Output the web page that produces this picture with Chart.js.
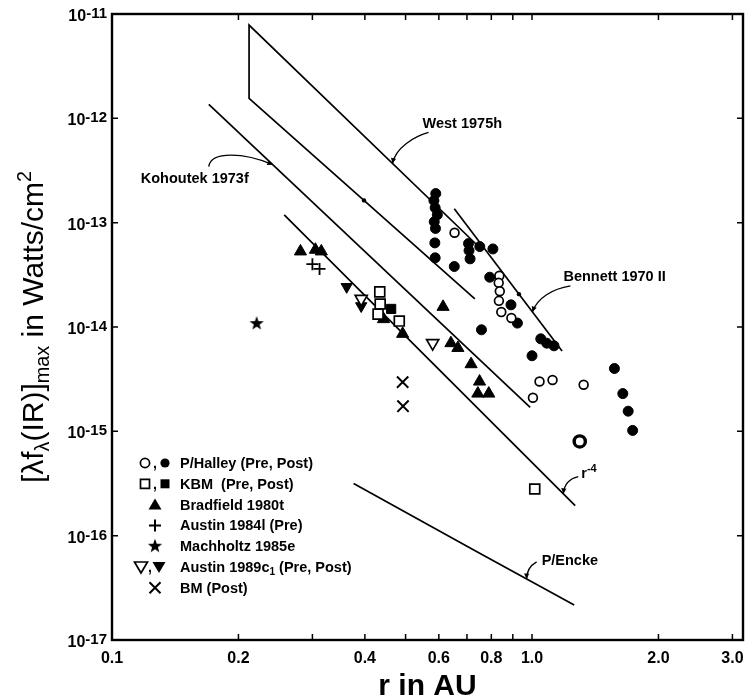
<!DOCTYPE html>
<html>
<head>
<meta charset="utf-8">
<script src="https://cdn.jsdelivr.net/npm/chart.js"></script>
<style>
  html, body { margin: 0; padding: 0; background: #fff; }
  #wrap { width: 748px; height: 700px; }
</style>
</head>
<body>
<div id="wrap"><canvas id="chart" width="748" height="700"></canvas></div>
<script>
// ---- axes ----
const xTickValues = [0.1, 0.2, 0.3, 0.4, 0.5, 0.6, 0.7, 0.8, 0.9, 1.0, 2.0, 3.0];
const xTickLabels = ["0.1", "0.2", "", "0.4", "", "0.6", "", "0.8", "", "1.0", "2.0", "3.0"];
const yExponents = [-11, -12, -13, -14, -15, -16, -17];

// ---- observations (r in AU, flux in W/cm2) ----
const halleyPreR = [0.654, 0.836, 0.833, 0.838, 0.834, 0.845, 0.893, 1.042, 1.119, 1.005, 1.327, 1.299];
const halleyPreF = [8.0e-14, 3.1e-14, 2.65e-14, 2.2e-14, 1.78e-14, 1.39e-14, 1.22e-14, 3.0e-15, 3.1e-15, 2.1e-15, 2.8e-15, 8.0e-16];

const halleyPostR = [0.590, 0.584, 0.588, 0.595, 0.585, 0.589, 0.587, 0.588, 0.653, 0.706, 0.708, 0.712, 0.751,
  0.807, 0.793, 0.891, 0.923, 0.758, 1.049, 1.084, 1.128, 1.000, 1.571, 1.645, 1.694, 1.736];
const halleyPostF = [1.90e-13, 1.63e-13, 1.39e-13, 1.19e-13, 1.02e-13, 8.8e-14, 6.4e-14, 4.6e-14, 3.8e-14, 6.3e-14, 5.4e-14, 4.5e-14, 5.9e-14,
  5.6e-14, 3.0e-14, 1.63e-14, 1.09e-14, 9.4e-15, 7.7e-15, 7.0e-15, 6.6e-15, 5.3e-15, 4.0e-15, 2.3e-15, 1.56e-15, 1.02e-15];

const kbmPreR = [0.434, 0.435, 0.430, 0.483, 1.015];
const kbmPreF = [2.17e-14, 1.66e-14, 1.33e-14, 1.14e-14, 2.8e-16];
const kbmPostR = [0.462];
const kbmPostF = [1.49e-14];

const bradfieldR = [0.281, 0.305, 0.315, 0.443, 0.492, 0.614, 0.641, 0.666, 0.716, 0.750, 0.743, 0.789];
const bradfieldF = [5.3e-14, 5.5e-14, 5.3e-14, 1.19e-14, 8.6e-15, 1.56e-14, 7.0e-15, 6.3e-15, 4.4e-15, 3.0e-15, 2.3e-15, 2.3e-15];

const austin84R = [0.300, 0.312];
const austin84F = [4.0e-14, 3.6e-14];

const machholtzR = [0.221];
const machholtzF = [1.09e-14];

const austin89PreR = [0.392, 0.580];
const austin89PreF = [1.86e-14, 7.0e-15];
const austin89PostR = [0.362, 0.392];
const austin89PostF = [2.43e-14, 1.59e-14];

const bmR = [0.492, 0.493];
const bmF = [2.96e-15, 1.74e-15];

// ---- reference curves ----
const westR = [0.760, 0.212, 0.212, 0.731];
const westF = [5.5e-14, 7.84e-12, 1.556e-12, 1.86e-14];
const kohoutekR = [0.170, 0.990];
const kohoutekF = [1.36e-12, 1.70e-15];
const bennettR = [0.653, 1.179];
const bennettF = [1.36e-13, 5.88e-15];
const rMinus4R = [0.257, 1.267];
const rMinus4F = [1.19e-13, 1.94e-16];
const enckeR = [0.376, 0.732, 1.260];
const enckeF = [3.16e-16, 7.17e-17, 2.17e-17];

const FONT = '"Liberation Sans", Arial, Helvetica, sans-serif';
const f = (size, weight) => `${weight || "normal"} ${size}px ${FONT}`;
const pts = (r, fl) => r.map((v, i) => ({ x: v, y: fl[i] }));

// filled five-point star used as a point style
const starImg = document.createElement("canvas");
starImg.width = 16; starImg.height = 16;
(function () {
  const c = starImg.getContext("2d");
  c.beginPath();
  for (let i = 0; i < 10; i++) {
    const rad = i % 2 === 0 ? 7.5 : 3.0;
    const a = -Math.PI / 2 + i * Math.PI / 5;
    c.lineTo(8 + rad * Math.cos(a), 8.5 + rad * Math.sin(a));
  }
  c.closePath();
  c.fillStyle = "#000";
  c.fill();
})();

function marks(label, r, fl, style) {
  return Object.assign({
    label, data: pts(r, fl), showLine: false, order: 1,
    pointBorderColor: "#000", pointBackgroundColor: "#000", pointBorderWidth: 1
  }, style);
}
function curve(label, r, fl) {
  return {
    label, data: pts(r, fl), showLine: true, order: 5, fill: false, tension: 0,
    borderColor: "#000", borderWidth: 1.7, pointRadius: 0
  };
}

const datasets = [
  marks("P/Halley (Pre)", halleyPreR, halleyPreF, {
    pointStyle: "circle", pointBackgroundColor: "#fff",
    pointRadius: c => (c.dataIndex === halleyPreR.length - 1 ? 5.6 : 4.4),
    pointBorderWidth: c => (c.dataIndex === halleyPreR.length - 1 ? 3.4 : 1.7)
  }),
  marks("P/Halley (Post)", halleyPostR, halleyPostF, { pointStyle: "circle", pointRadius: 5 }),
  marks("KBM (Pre)", kbmPreR, kbmPreF, { pointStyle: "rect", pointRadius: 7, pointBackgroundColor: "#fff", pointBorderWidth: 1.7 }),
  marks("KBM (Post)", kbmPostR, kbmPostF, { pointStyle: "rect", pointRadius: 6.5 }),
  marks("Bradfield 1980t", bradfieldR, bradfieldF, { pointStyle: "triangle", pointRadius: 7 }),
  marks("Austin 1984l (Pre)", austin84R, austin84F, { pointStyle: "cross", pointRadius: 6, pointBorderWidth: 1.8 }),
  marks("Machholtz 1985e", machholtzR, machholtzF, { pointStyle: starImg, pointRadius: 8 }),
  marks("Austin 1989c1 (Pre)", austin89PreR, austin89PreF, { pointStyle: "triangle", pointRotation: 180, pointRadius: 7, pointBackgroundColor: "#fff", pointBorderWidth: 1.7 }),
  marks("Austin 1989c1 (Post)", austin89PostR, austin89PostF, { pointStyle: "triangle", pointRotation: 180, pointRadius: 6.5 }),
  marks("BM (Post)", bmR, bmF, { pointStyle: "crossRot", pointRadius: 8, pointBorderWidth: 2 }),
  curve("West 1975h", westR, westF),
  curve("Kohoutek 1973f", kohoutekR, kohoutekF),
  curve("Bennett 1970 II", bennettR, bennettF),
  curve("r-4", rMinus4R, rMinus4F),
  curve("P/Encke", enckeR, enckeF)
];
const IDX = {};
datasets.forEach((d, i) => { IDX[d.label] = i; });

// text drawn piece by piece (sub/superscripts)
function drawRich(ctx, parts, x, y, align) {
  let total = 0;
  parts.forEach(p => { ctx.font = p.font; p.w = ctx.measureText(p.t).width; total += p.w; });
  let cx = align === "right" ? x - total : align === "center" ? x - total / 2 : x;
  parts.forEach(p => { ctx.font = p.font; ctx.fillText(p.t, cx, y + (p.dy || 0)); cx += p.w; });
  return total;
}

function drawSym(ctx, kind, x, y) {
  ctx.save();
  ctx.lineWidth = 1.7; ctx.strokeStyle = "#000"; ctx.fillStyle = "#000";
  ctx.beginPath();
  if (kind === "circleOpen" || kind === "circleFilled") {
    ctx.arc(x, y, 4.6, 0, Math.PI * 2);
    kind === "circleFilled" ? ctx.fill() : ctx.stroke();
  } else if (kind === "squareOpen" || kind === "squareFilled") {
    ctx.rect(x - 4.5, y - 4.5, 9, 9);
    kind === "squareFilled" ? ctx.fill() : ctx.stroke();
  } else if (kind === "triUp") {
    ctx.moveTo(x, y - 6); ctx.lineTo(x + 6.5, y + 5); ctx.lineTo(x - 6.5, y + 5); ctx.closePath(); ctx.fill();
  } else if (kind === "triDownOpen" || kind === "triDownFilled") {
    ctx.moveTo(x - 6.5, y - 5); ctx.lineTo(x + 6.5, y - 5); ctx.lineTo(x, y + 6); ctx.closePath();
    kind === "triDownFilled" ? ctx.fill() : ctx.stroke();
  } else if (kind === "plus") {
    ctx.lineWidth = 2;
    ctx.moveTo(x - 6, y); ctx.lineTo(x + 6, y); ctx.moveTo(x, y - 6); ctx.lineTo(x, y + 6); ctx.stroke();
  } else if (kind === "x") {
    ctx.lineWidth = 2;
    ctx.moveTo(x - 5.5, y - 5.5); ctx.lineTo(x + 5.5, y + 5.5); ctx.moveTo(x + 5.5, y - 5.5); ctx.lineTo(x - 5.5, y + 5.5); ctx.stroke();
  } else if (kind === "star") {
    ctx.drawImage(starImg, x - 8, y - 8.5);
  }
  ctx.restore();
}

const legendRows = [
  { syms: ["circleOpen", "circleFilled"], text: [{ t: "P/Halley (Pre, Post)" }] },
  { syms: ["squareOpen", "squareFilled"], text: [{ t: "KBM  (Pre, Post)" }] },
  { syms: ["triUp"], text: [{ t: "Bradfield 1980t" }] },
  { syms: ["plus"], text: [{ t: "Austin 1984l (Pre)" }] },
  { syms: ["star"], text: [{ t: "Machholtz 1985e" }] },
  { syms: ["triDownOpen", "triDownFilled"], text: [{ t: "Austin 1989c" }, { t: "1", sub: true }, { t: " (Pre, Post)" }] },
  { syms: ["x"], text: [{ t: "BM (Post)" }] }
];

// leader notes, anchored on the curves
const notes = [
  { ds: "West 1975h", i0: 1, i1: 0, t: 0.616, c: [[36, -31], [22, -27], [3, -16]],
    parts: [{ t: "West 1975h" }], tx: 30, ty: -35, align: "left" },
  { ds: "Kohoutek 1973f", i0: 0, i1: 1, t: 0.199, c: [[-64, 2], [-62, -14], [-28, -12]],
    parts: [{ t: "Kohoutek 1973f" }], tx: -24, ty: 18, align: "right" },
  { ds: "Bennett 1970 II", i0: 0, i1: 1, t: 0.725, c: [[38, -26], [20, -23], [5, -14]],
    parts: [{ t: "Bennett 1970 II" }], tx: 31, ty: -31, align: "left" },
  { ds: "r-4", i0: 0, i1: 1, t: 0.959, c: [[15, -17], [6, -15], [1, -9]],
    parts: [{ t: "r" }, { t: "-4", sup: true }], tx: 18, ty: -16, align: "left" },
  { ds: "P/Encke", i0: 1, i1: 2, t: 0.52, c: [[10, -17], [3, -13], [0, -7]],
    parts: [{ t: "P/Encke" }], tx: 15, ty: -14, align: "left" }
];
const ticksOnCurves = [
  { ds: "West 1975h", i0: 2, i1: 3, t: 0.509 },
  { ds: "Bennett 1970 II", i0: 0, i1: 1, t: 0.6 }
];

function onCurve(chart, n) {
  const p = chart.getDatasetMeta(IDX[n.ds]).data;
  return { x: p[n.i0].x + (p[n.i1].x - p[n.i0].x) * n.t, y: p[n.i0].y + (p[n.i1].y - p[n.i0].y) * n.t };
}

const decor = {
  id: "decor",
  afterDatasetsDraw(chart) {
    const { ctx, chartArea: a, scales: { x, y } } = chart;
    ctx.save();
    ctx.strokeStyle = "#000"; ctx.fillStyle = "#000";

    // frame and inward ticks
    ctx.lineWidth = 2.4;
    ctx.strokeRect(a.left, a.top, a.right - a.left, a.bottom - a.top);
    ctx.lineWidth = 1.5;
    ctx.beginPath();
    xTickValues.forEach(v => {
      const px = x.getPixelForValue(v);
      ctx.moveTo(px, a.bottom); ctx.lineTo(px, a.bottom - 6);
      ctx.moveTo(px, a.top); ctx.lineTo(px, a.top + 6);
    });
    yExponents.forEach(e => {
      const py = y.getPixelForValue(Math.pow(10, e));
      ctx.moveTo(a.left, py); ctx.lineTo(a.left + 6, py);
      ctx.moveTo(a.right, py); ctx.lineTo(a.right - 6, py);
    });
    ctx.stroke();

    // y tick labels 10^n
    ctx.textBaseline = "alphabetic";
    yExponents.forEach(e => {
      const py = y.getPixelForValue(Math.pow(10, e));
      drawRich(ctx, [
        { t: "10", font: f(16, "bold") },
        { t: String(e), font: f(15, "bold"), dy: -3 }
      ], a.left - 5, py + 7, "right");
    });

    // y axis title, rotated
    const base = 30, small = base * 0.66;
    const titleParts = [
      { t: "[\u03bbf", font: f(base) },
      { t: "\u03bb", font: f(small), dy: 6 },
      { t: "(IR)]", font: f(base) },
      { t: "max", font: f(small), dy: 6 },
      { t: " in Watts/cm", font: f(base) },
      { t: "2", font: f(small), dy: -12 }
    ];
    ctx.save();
    ctx.translate(43, (a.top + a.bottom) / 2);
    ctx.rotate(-Math.PI / 2);
    drawRich(ctx, titleParts, 0, 0, "center");
    ctx.restore();

    // legend
    const LX = 180, LY0 = 463, LDY = 20.8;
    legendRows.forEach((row, i) => {
      const ry = LY0 + i * LDY;
      if (row.syms.length === 2) {
        const x1 = row.syms[0].startsWith("tri") ? 141 : 145;
        const x2 = row.syms[0].startsWith("tri") ? 159 : 165;
        drawSym(ctx, row.syms[0], x1, ry);
        drawSym(ctx, row.syms[1], x2, ry);
        ctx.font = f(14, "bold");
        ctx.fillText(",", (x1 + x2) / 2 - 2, ry + 5);
      } else {
        drawSym(ctx, row.syms[0], 155, ry);
      }
      drawRich(ctx, row.text.map(p => ({
        t: p.t, font: p.sub ? f(10, "bold") : f(14.5, "bold"), dy: p.sub ? 3 : 0
      })), LX, ry + 5, "left");
    });

    // curve annotations with leaders
    ctx.lineWidth = 1.3;
    notes.forEach(n => {
      const tip = onCurve(chart, n);
      ctx.beginPath();
      ctx.moveTo(tip.x + n.c[0][0], tip.y + n.c[0][1]);
      ctx.bezierCurveTo(tip.x + n.c[1][0], tip.y + n.c[1][1], tip.x + n.c[2][0], tip.y + n.c[2][1], tip.x, tip.y);
      ctx.stroke();
      const ang = Math.atan2(-n.c[2][1], -n.c[2][0]);
      ctx.beginPath();
      ctx.moveTo(tip.x, tip.y);
      ctx.lineTo(tip.x - 6 * Math.cos(ang - 0.45), tip.y - 6 * Math.sin(ang - 0.45));
      ctx.lineTo(tip.x - 6 * Math.cos(ang + 0.45), tip.y - 6 * Math.sin(ang + 0.45));
      ctx.closePath();
      ctx.fill();
      drawRich(ctx, n.parts.map(p => ({
        t: p.t, font: p.sup ? f(11, "bold") : f(14.5, "bold"), dy: p.sup ? -6 : 0
      })), tip.x + n.tx, tip.y + n.ty, n.align);
    });
    ticksOnCurves.forEach(n => {
      const p = onCurve(chart, n);
      ctx.beginPath(); ctx.arc(p.x, p.y, 2.2, 0, Math.PI * 2); ctx.fill();
    });
    ctx.restore();
  }
};

new Chart(document.getElementById("chart"), {
  type: "scatter",
  data: { datasets },
  options: {
    responsive: false,
    animation: false,
    events: [],
    layout: { autoPadding: false, padding: { top: 14, right: 5, left: 0, bottom: 0 } },
    plugins: { legend: { display: false }, tooltip: { enabled: false } },
    scales: {
      x: {
        type: "logarithmic",
        min: 0.1,
        max: 3.179,
        afterBuildTicks: s => { s.ticks = xTickValues.map(v => ({ value: v })); },
        afterFit: s => { s.height = 60; s.paddingLeft = 0; s.paddingRight = 0; },
        grid: { display: false, drawTicks: false },
        border: { display: false },
        ticks: {
          autoSkip: false, maxRotation: 0, padding: 9, color: "#000",
          font: { family: FONT, size: 16, weight: "bold" },
          callback: (v, i) => xTickLabels[i]
        },
        title: {
          display: true, text: "r in AU", color: "#000",
          font: { family: FONT, size: 30, weight: "bold", lineHeight: 0.87 },
          padding: 0
        }
      },
      y: {
        type: "logarithmic",
        min: 1e-17,
        max: 1e-11,
        afterFit: s => { s.width = 112; },
        grid: { display: false, drawTicks: false },
        border: { display: false },
        ticks: { display: false }
      }
    }
  },
  plugins: [decor]
});
</script>
</body>
</html>
